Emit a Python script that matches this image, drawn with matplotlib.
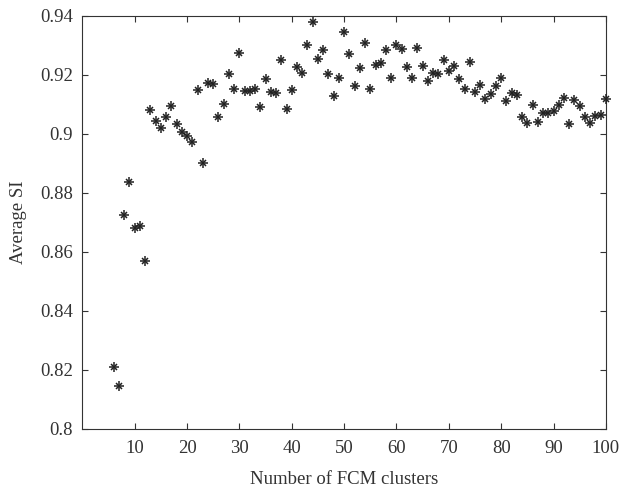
import numpy as np
import matplotlib.pyplot as plt

# cluster counts and average silhouette index
clusters = list(range(6, 101))
avg_si = [
    0.8209, 0.8144, 0.8725, 0.8835, 0.8680, 0.8688, 0.8569,          # 6-12
    0.9079, 0.9042, 0.9019, 0.9057, 0.9094, 0.9032, 0.9005, 0.8993,  # 13-20
    0.8970, 0.9147, 0.8901, 0.9172, 0.9168, 0.9058, 0.9102, 0.9201,  # 21-28
    0.9153, 0.9274, 0.9144, 0.9144, 0.9152, 0.9091, 0.9185, 0.9140,  # 29-36
    0.9137, 0.9250, 0.9084, 0.9148, 0.9227, 0.9206, 0.9300, 0.9378,  # 37-44
    0.9253, 0.9284, 0.9202, 0.9128, 0.9189, 0.9344, 0.9271, 0.9161,  # 45-52
    0.9222, 0.9309, 0.9153, 0.9233, 0.9239, 0.9284, 0.9188, 0.9302,  # 53-60
    0.9288, 0.9225, 0.9188, 0.9292, 0.9229, 0.9180, 0.9207, 0.9201,  # 61-68
    0.9250, 0.9213, 0.9231, 0.9184, 0.9150, 0.9242, 0.9140, 0.9164,  # 69-76
    0.9117, 0.9134, 0.9163, 0.9189, 0.9112, 0.9137, 0.9132, 0.9056,  # 77-84
    0.9035, 0.9098, 0.9040, 0.9069, 0.9069, 0.9077, 0.9098, 0.9122,  # 85-92
    0.9033, 0.9115, 0.9093, 0.9056, 0.9036, 0.9060, 0.9064, 0.9118,  # 93-100
]

x_ticks = list(range(10, 101, 10))
y_ticks = [0.8, 0.82, 0.84, 0.86, 0.88, 0.9, 0.92, 0.94]

plt.rcParams['font.family'] = ['Liberation Serif', 'DejaVu Serif']

fig = plt.figure(figsize=(6.24, 4.9), dpi=100)
ax = fig.add_axes([0.132, 0.1255, 0.839, 0.8425])

# MATLAB-like asterisk: plus + cross on top of each other
mark_col = '#222222'
ax.plot(clusters, avg_si, linestyle='none', marker='+', markersize=7,
        markeredgewidth=1.1, color=mark_col, clip_on=False, zorder=3)
ax.plot(clusters, avg_si, linestyle='none', marker='x', markersize=4.5,
        markeredgewidth=1.1, color=mark_col, clip_on=False, zorder=3)

ax.set_xlim(0, 100)
ax.set_ylim(0.8, 0.94)
ax.set_xticks(x_ticks)
ax.set_yticks(y_ticks)
ax.set_yticklabels(['%g' % v for v in y_ticks])
ax.tick_params(direction='in', top=True, right=True, length=4,
               labelsize=13.5, colors='#333333', labelcolor='#333333')
ax.tick_params(axis='y', pad=7)
ax.tick_params(axis='x', pad=8)
for s in ax.spines.values():
    s.set_color('#333333')

ax.set_xlabel('Number of FCM clusters', fontsize=13.5, color='#333333', labelpad=10)
ax.set_ylabel('Average SI', fontsize=13.5, color='#333333', labelpad=9)

fig.savefig('out.png', dpi=100)
